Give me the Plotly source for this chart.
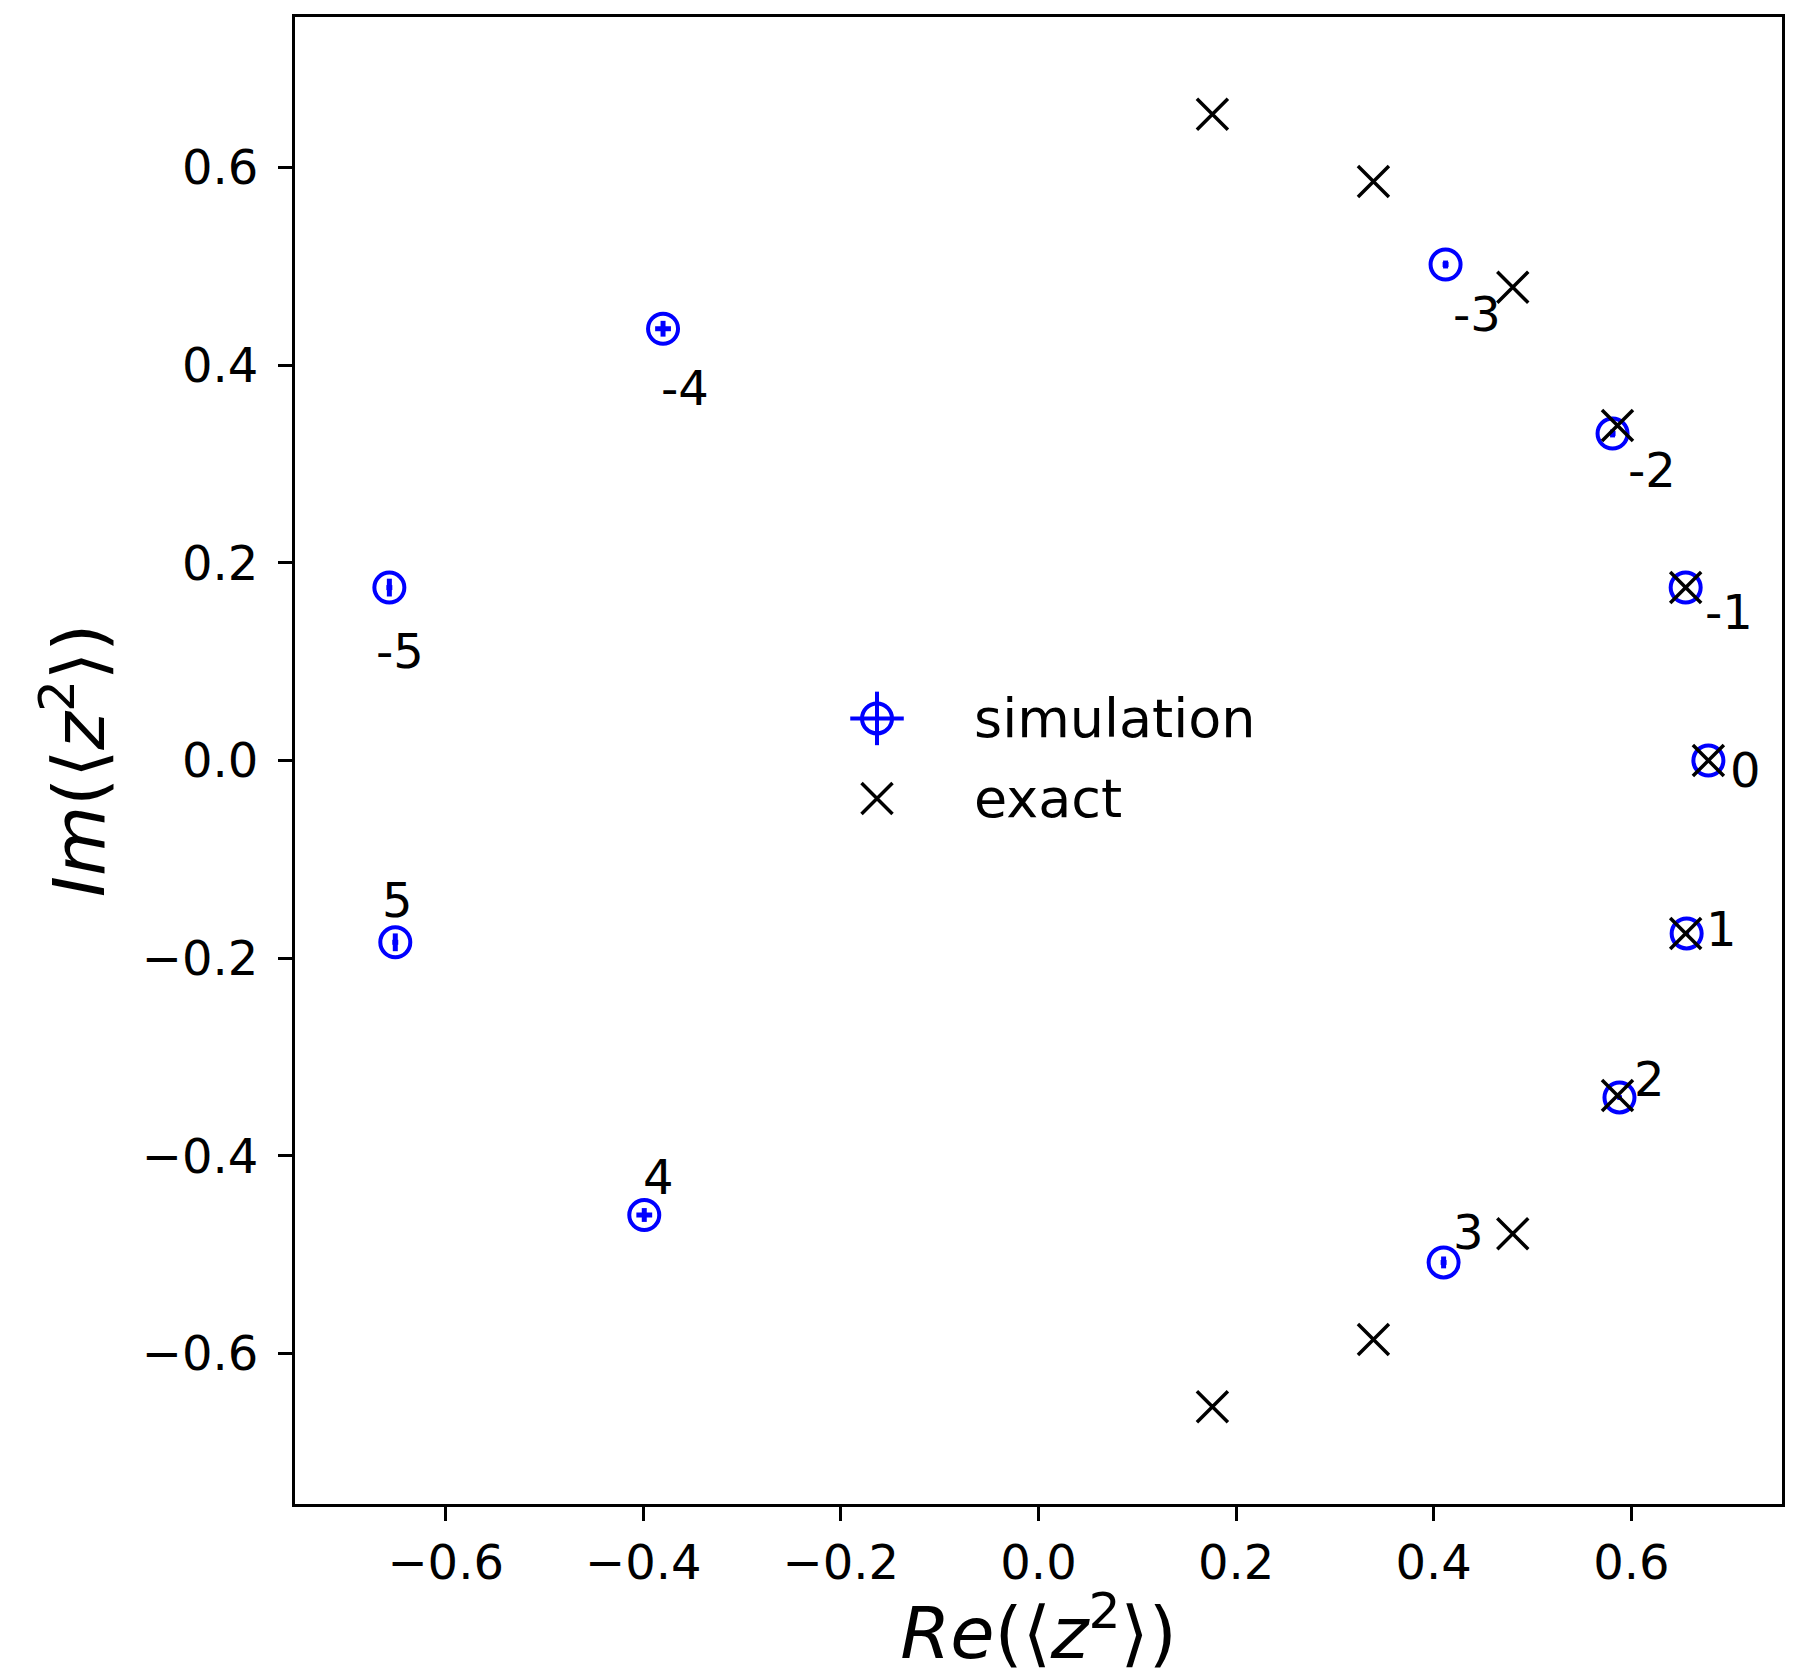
import plotly.graph_objects as go

# Data
labels = ["-5", "-4", "-3", "-2", "-1", "0", "1", "2", "3", "4", "5"]
sim_re = [-0.657, -0.380, 0.412, 0.581, 0.655, 0.678, 0.656, 0.588, 0.410, -0.399, -0.651]
sim_im = [0.175, 0.437, 0.502, 0.331, 0.175, 0.000, -0.175, -0.341, -0.508, -0.460, -0.184]
sim_err_re = [0.003, 0.008, 0.003, 0.003, 0.002, 0.002, 0.002, 0.002, 0.003, 0.008, 0.003]
sim_err_im = [0.009, 0.008, 0.004, 0.004, 0.002, 0.002, 0.002, 0.002, 0.006, 0.007, 0.009]

exact_re = [0.176, 0.339, 0.480, 0.586, 0.655, 0.678, 0.655, 0.586, 0.480, 0.339, 0.176]
exact_im = [0.654, 0.586, 0.479, 0.339, 0.175, 0.000, -0.175, -0.339, -0.479, -0.586, -0.654]

# label pixel offsets (x right, y up)
label_dx = [11, 22, 31, 39, 43, 37, 35, 30, 25, 14, 2]
label_dy = [-63, -59, -49, -37, -24, -9, 4, 18, 30, 38, 42]

legend_names = ["simulation", "exact"]

FONT = "DejaVu Sans"
BLUE = "#0000ff"

sim_marker = dict(symbol="circle-open", size=30, color=BLUE, line=dict(width=4, color=BLUE))
exact_marker = dict(symbol="x-thin-open", size=31, color="black", line=dict(width=3.5, color="black"))

fig = go.Figure()
fig.add_trace(go.Scatter(
    x=sim_re, y=sim_im, mode="markers", name=legend_names[0], showlegend=False,
    marker=sim_marker,
    error_x=dict(type="data", array=sim_err_re, color=BLUE, thickness=5, width=0),
    error_y=dict(type="data", array=sim_err_im, color=BLUE, thickness=5, width=0),
))
fig.add_trace(go.Scatter(
    x=exact_re, y=exact_im, mode="markers", name=legend_names[1], showlegend=False,
    marker=exact_marker,
))

# Custom legend (large keys, matplotlib style) on a hidden overlay axis in [0,1] units
key_x = 0.3914
key_y = [0.5283, 0.4744]
text_x = 0.4550
fig.add_trace(go.Scatter(
    x=[key_x], y=[key_y[0]], mode="markers", xaxis="x2", yaxis="y2", showlegend=False,
    hoverinfo="skip", marker=sim_marker,
    error_x=dict(type="constant", value=0.018, color=BLUE, thickness=4, width=0),
    error_y=dict(type="constant", value=0.018, color=BLUE, thickness=4, width=0),
))
fig.add_trace(go.Scatter(
    x=[key_x], y=[key_y[1]], mode="markers", xaxis="x2", yaxis="y2", showlegend=False,
    hoverinfo="skip", marker=exact_marker,
))
for name, ky in zip(legend_names, key_y):
    fig.add_annotation(x=text_x, y=ky, xref="x2", yref="y2", text=name, showarrow=False,
                       xanchor="left", yanchor="middle",
                       font=dict(family=FONT, size=54, color="black"))

for lab, xr, yi, dx, dy in zip(labels, sim_re, sim_im, label_dx, label_dy):
    fig.add_annotation(x=xr, y=yi, text=lab, showarrow=False, xshift=dx, yshift=dy,
                       xanchor="center", yanchor="middle",
                       font=dict(family=FONT, size=48, color="black"))

axis_common = dict(
    range=[-0.7525, 0.7525], showline=True, linecolor="black", linewidth=3, mirror=True,
    ticks="outside", ticklen=14, tickwidth=3, tickcolor="black", showgrid=False, zeroline=False,
    tickvals=[-0.6, -0.4, -0.2, 0.0, 0.2, 0.4, 0.6], tickformat=".1f",
    tickfont=dict(family=FONT, size=48, color="black"), automargin=False,
)

fig.update_xaxes(**axis_common,
                 title=dict(text="<i>Re</i>(⟨<i>z</i><sup>2</sup>⟩)",
                            font=dict(family=FONT, size=72, color="black"), standoff=15))
fig.update_yaxes(**axis_common, ticklabelstandoff=10,
                 title=dict(text="<i>Im</i>(⟨<i>z</i><sup>2</sup>⟩)",
                            font=dict(family=FONT, size=72, color="black"), standoff=14))

# page body adds an 8px margin; size the figure so it fills the 1797x1675 window
fig.update_layout(
    width=1789, height=1667,
    margin=dict(l=287, r=14.5, t=8.5, b=171),
    paper_bgcolor="white", plot_bgcolor="white",
    showlegend=False,
    xaxis2=dict(overlaying="x", range=[0, 1], visible=False, fixedrange=True),
    yaxis2=dict(overlaying="y", range=[0, 1], visible=False, fixedrange=True),
)

fig.write_html("out.html")
